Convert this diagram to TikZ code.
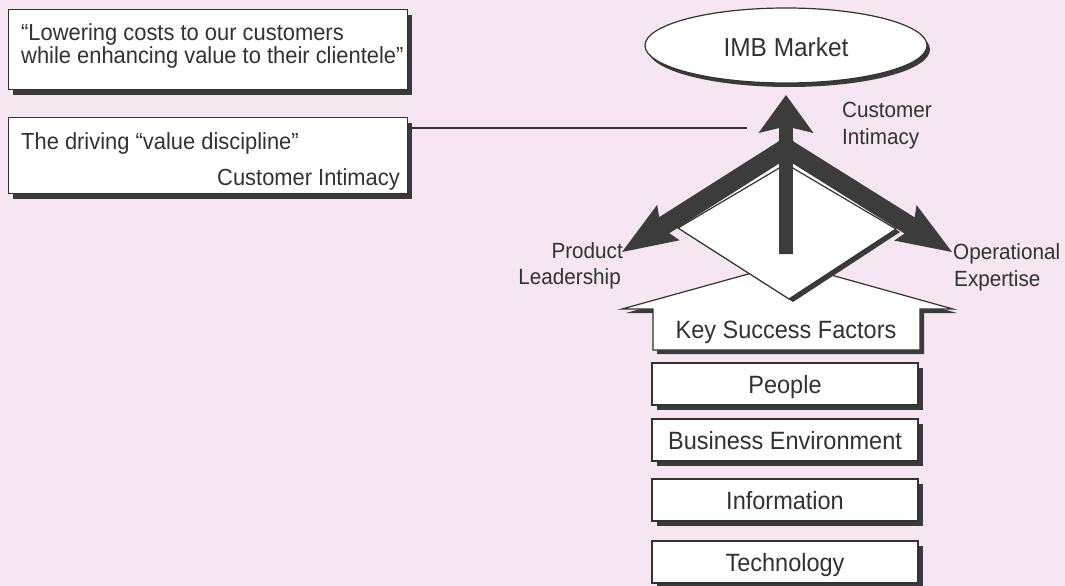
\documentclass[tikz,border=0pt]{standalone}
\usepackage{fontspec}
\setmainfont[FakeStretch=0.94]{Liberation Sans}
\usetikzlibrary{calc,shapes.geometric,shadows}

\definecolor{paper}{RGB}{245,230,241}
\definecolor{ink}{RGB}{50,50,50}
\definecolor{arrowgray}{RGB}{60,60,60}
\definecolor{shade}{RGB}{58,58,58}

\newcommand\txtquote{\fontsize{23.3}{27}\selectfont}
\newcommand\txtlabel{\fontsize{22}{27}\selectfont}
\newcommand\txtbox{\fontsize{25}{30}\selectfont}
\newcommand\txtmarket{\fontsize{26}{30}\selectfont}

% broad arrow: tail, tip, half shaft width, head length, join length, half head width
\newcommand\fatarrow[6]{%
  \path ($(#2)!#4!(#1)$) coordinate (fa-wing)
        ($(#2)!#5!(#1)$) coordinate (fa-join);
  \fill[arrowfill] ($(#1)!#3!90:(#2)$) -- ($(fa-join)!#3!90:(#2)$)
    -- ($(fa-wing)!#6!90:(#2)$) -- (#2) -- ($(fa-wing)!#6!-90:(#2)$)
    -- ($(fa-join)!#3!-90:(#2)$) -- ($(#1)!#3!-90:(#2)$) -- cycle;
}

\begin{document}
\begin{tikzpicture}[x=1pt,y=-1pt,
  outline/.style={draw=ink, line width=1.2pt},
  dropshade/.style={general shadow={fill=shade, shadow xshift=#1, shadow yshift=-#1}},
  panel/.style={rectangle, outline, fill=white, inner sep=0pt,
    general shadow={fill=shade, shadow xshift=4.5pt, shadow yshift=-5pt}},
  factor/.style={panel, minimum width=266pt, minimum height=42pt,
    font=\txtbox, text=ink, text height=18pt, text depth=0pt},
  words/.style={inner sep=0pt, text=ink},
  lbl/.style={words, font=\txtlabel},
  quotetxt/.style={words, font=\txtquote},
  arrowfill/.style={fill=arrowgray}]

\useasboundingbox (0,0) rectangle (1065,586);
\fill[paper] (0,0) rectangle (1065,586);

% statement panels on the left
\node[panel, anchor=north west, minimum width=399pt, minimum height=80pt] (quote) at (8,9) {};
\node[quotetxt, anchor=base west] (quote-a) at (21,40.7) {“Lowering costs to our customers};
\node[quotetxt, anchor=base west] (quote-b) at (21,63.3) {while enhancing value to their clientele”};

\node[panel, anchor=north west, minimum width=399pt, minimum height=76pt] (discipline) at (8,117) {};
\node[quotetxt, anchor=base west] (disc-a) at (21,149) {The driving “value discipline”};
\node[quotetxt, anchor=base east] (disc-b) at (400,185) {Customer Intimacy};

% pointer from the discipline panel towards the central arrow
\coordinate (pointer-end) at (747,128);
\draw[ink, line width=1.4pt] (pointer-end -| discipline.east) -- (pointer-end);

% house of key success factors
\draw[outline, fill=white, dropshade=4pt]
  (622,309) -- (788,263) -- (953,309) -- (920,309) -- (920,350)
  -- (653,350) -- (653,309) -- cycle;
\node[words, font=\txtbox, anchor=base] (ksf) at (786,338.3) {Key Success Factors};

% diamond
\coordinate (d-top) at (786,164);
\coordinate (d-left) at (678,228);
\coordinate (d-bottom) at (789,299);
\coordinate (d-right) at (896,229);
\coordinate (d-under) at (786,158);
\fill[white, general shadow={fill=shade, shadow xshift=4pt, shadow yshift=-3pt}]
  (d-left) -- (d-under) -- (d-right) -- (d-bottom) -- cycle;
\draw[ink, line width=1.2pt] (d-left) -- (d-top) -- (d-right) -- (d-bottom) -- cycle;

% value discipline arrows
\coordinate (left-tail) at (794.4,142.6);
\coordinate (left-tip) at (622,252);
\coordinate (right-tail) at (777.5,142.7);
\coordinate (right-tip) at (952,252);
\coordinate (up-tail) at (786,254);
\coordinate (up-tip) at (786,95);
\fatarrow{left-tail}{left-tip}{9.5pt}{55pt}{50pt}{21pt}
\fatarrow{right-tail}{right-tip}{9.5pt}{55pt}{50pt}{21pt}
\fatarrow{up-tail}{up-tip}{6.8pt}{38pt}{33pt}{27.5pt}

% market
\node[ellipse, outline, fill=white, inner sep=0pt, minimum width=282pt, minimum height=75pt,
  general shadow={fill=shade, shadow xshift=3pt, shadow yshift=-4pt},
  font=\txtmarket, text=ink, text height=21.4pt, text depth=0pt] (market) at (786,45.5) {IMB Market};

% arrow labels
\node[lbl, anchor=base west] (ci-a) at (842,117) {Customer};
\node[lbl, anchor=base west] (ci-b) at (842,144) {Intimacy};
\node[lbl, anchor=base east] (pl-a) at (623,258) {Product};
\node[lbl, anchor=base east] (pl-b) at (621,284) {Leadership};
\node[lbl, anchor=base west] (oe-a) at (953,259) {Operational};
\node[lbl, anchor=base west] (oe-b) at (954,286) {Expertise};

% key success factors
\node[factor] (people) at (785,384) {People};
\node[factor] (business) at (785,440) {Business Environment};
\node[factor] (information) at (785,500) {Information};
\node[factor] (technology) at (785,562) {Technology};

\end{tikzpicture}
\end{document}
